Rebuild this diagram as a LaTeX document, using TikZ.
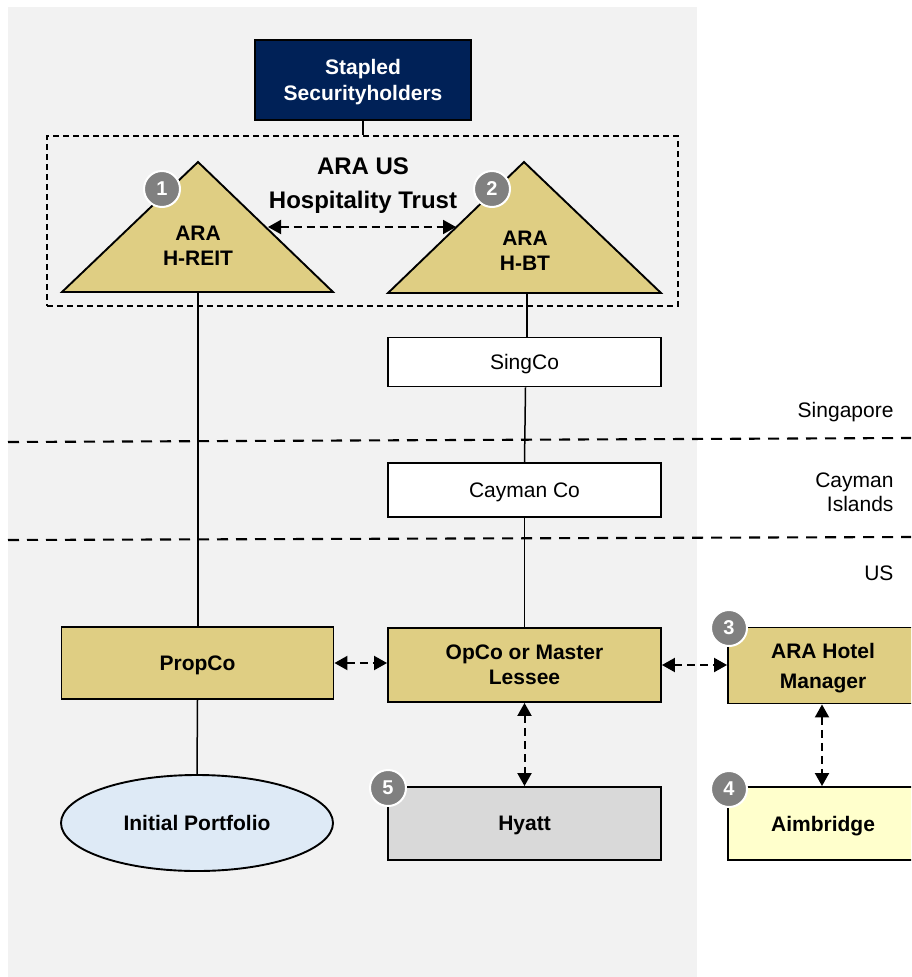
\documentclass[tikz,border=0pt]{standalone}
\usepackage{fontspec}
\setmainfont{Liberation Sans}
\usetikzlibrary{arrows.meta,shapes.geometric}
\definecolor{bggrey}{RGB}{242,242,242}
\definecolor{gold}{RGB}{223,206,131}
\definecolor{navy}{RGB}{0,33,87}
\definecolor{hyattgrey}{RGB}{217,217,217}
\definecolor{paleyellow}{RGB}{255,255,204}
\definecolor{paleblue}{RGB}{222,234,246}
\definecolor{badgegrey}{RGB}{128,128,128}
\begin{document}
\begin{tikzpicture}[x=1pt,y=-1pt,
  boldtxt/.style={font=\fontsize{21}{26}\selectfont\bfseries, text depth=0pt},
  regtxt/.style={font=\fontsize{21}{24}\selectfont, text depth=0pt},
  boxnode/.style={draw=black, line width=1.9pt, inner sep=0pt, align=center},
  goldbox/.style={boxnode, fill=gold, boldtxt},
  whitebox/.style={boxnode, fill=white, regtxt},
  tri/.style={draw=black, line width=1.9pt, fill=gold, line join=miter},
  conn/.style={draw=black, line width=1.5pt},
  darr/.style={draw=black, line width=2pt, dash pattern=on 8pt off 5pt,
    {Triangle[length=13pt,width=14pt]}-{Triangle[length=13pt,width=14pt]}},
  regline/.style={draw=black, line width=2.1pt, dash pattern=on 11pt off 8pt},
  badge/.style={circle, fill=badgegrey, draw=white, line width=2pt, minimum size=36pt,
    inner sep=0pt, text=white, text depth=0pt, font=\fontsize{20}{20}\selectfont\bfseries}
]
\useasboundingbox (0,0) rectangle (911,977);
\clip (0,0) rectangle (911,977);
\fill[bggrey] (8,7) rectangle (697,977);

% region separators
\draw[regline] (8,442) -- (911,438);
\draw[regline] (8,540) -- (911,537);
\node[regtxt, anchor=east] (sg) at (897,410) {Singapore};
\node[regtxt, anchor=east, align=right] (ky) at (897,492) {Cayman\\Islands};
\node[regtxt, anchor=east] (us) at (897,573) {US};

% top
\node[boxnode, fill=navy, text=white, boldtxt, minimum width=216pt, minimum height=80pt] (stapled) at (363,80) {Stapled\\Securityholders};
\node[draw=black, line width=1.7pt, dash pattern=on 6pt off 4pt, minimum width=631pt, minimum height=170pt, inner sep=0pt] (trust) at (362.5,221) {};
\draw[conn] (stapled.south) -- (stapled.south |- trust.north);
\node[font=\fontsize{24}{34}\selectfont\bfseries, text depth=0pt, align=center] (title) at (363,183) {ARA US\\Hospitality Trust};

% triangles
\draw[tri] (62,292) -- (198,162) -- (333,292) -- cycle;
\draw[tri] (388,293) -- (524,162) -- (661,293) -- cycle;
\coordinate (reitbase) at (198,292);
\coordinate (hbtbase) at (527,293);
\node[boldtxt, align=center, font=\fontsize{21}{25}\selectfont\bfseries] (reit) at (198,246) {ARA\\H-REIT};
\node[boldtxt, align=center, font=\fontsize{21}{25}\selectfont\bfseries] (hbt) at (525,251) {ARA\\H-BT};
\coordinate (reitedge) at (268,227);
\coordinate (hbtedge) at (456,227);
\draw[darr] (reitedge) -- (hbtedge);

% middle boxes
\node[whitebox, minimum width=273pt, minimum height=49pt] (singco) at (524.5,362) {SingCo};
\node[whitebox, minimum width=273pt, minimum height=54pt] (cayman) at (524.5,490) {Cayman Co};

% bottom boxes
\node[goldbox, minimum width=272pt, minimum height=72pt] (propco) at (197.5,663) {PropCo};
\node[goldbox, minimum width=273pt, minimum height=74pt, font=\fontsize{21}{25}\selectfont\bfseries] (opco) at (524.5,665) {OpCo or Master\\Lessee};
\node[goldbox, minimum width=190pt, minimum height=76pt, font=\fontsize{21}{30}\selectfont\bfseries] (hotel) at (823,665.5) {ARA Hotel\\Manager};
\node[boxnode, fill=hyattgrey, boldtxt, minimum width=273pt, minimum height=73pt] (hyatt) at (524.5,823.5) {Hyatt};
\node[boxnode, fill=paleyellow, boldtxt, minimum width=190pt, minimum height=73pt] (aim) at (823,823.5) {Aimbridge};
\node[ellipse, draw=black, line width=1.9pt, fill=paleblue, boldtxt, minimum width=272pt, minimum height=96pt, inner sep=0pt] (port) at (197,823) {Initial Portfolio};

% solid connectors
\draw[conn] (reitbase) -- (reitbase |- propco.north);
\draw[conn] (propco.south) -- (port.north);
\draw[conn] (hbtbase) -- (hbtbase |- singco.north);
\draw[conn] ([xshift=1pt]singco.south) -- (cayman.north);
\draw[conn] (cayman.south) -- (opco.north);

% dashed double arrows
\draw[darr] (propco.east) -- (propco.east -| opco.west);
\draw[darr] (opco.east) -- (opco.east -| hotel.west);
\draw[darr] (opco.south) -- (hyatt.north);
\draw[darr] ([xshift=-1pt]hotel.south) -- ([xshift=-1pt]aim.north);

% badges
\node[badge] (b1) at (162,189) {1};
\node[badge] (b2) at (492,189) {2};
\node[badge] (b3) at (729,628) {3};
\node[badge] (b4) at (729,789) {4};
\node[badge] (b5) at (388,788) {5};
\end{tikzpicture}
\end{document}
